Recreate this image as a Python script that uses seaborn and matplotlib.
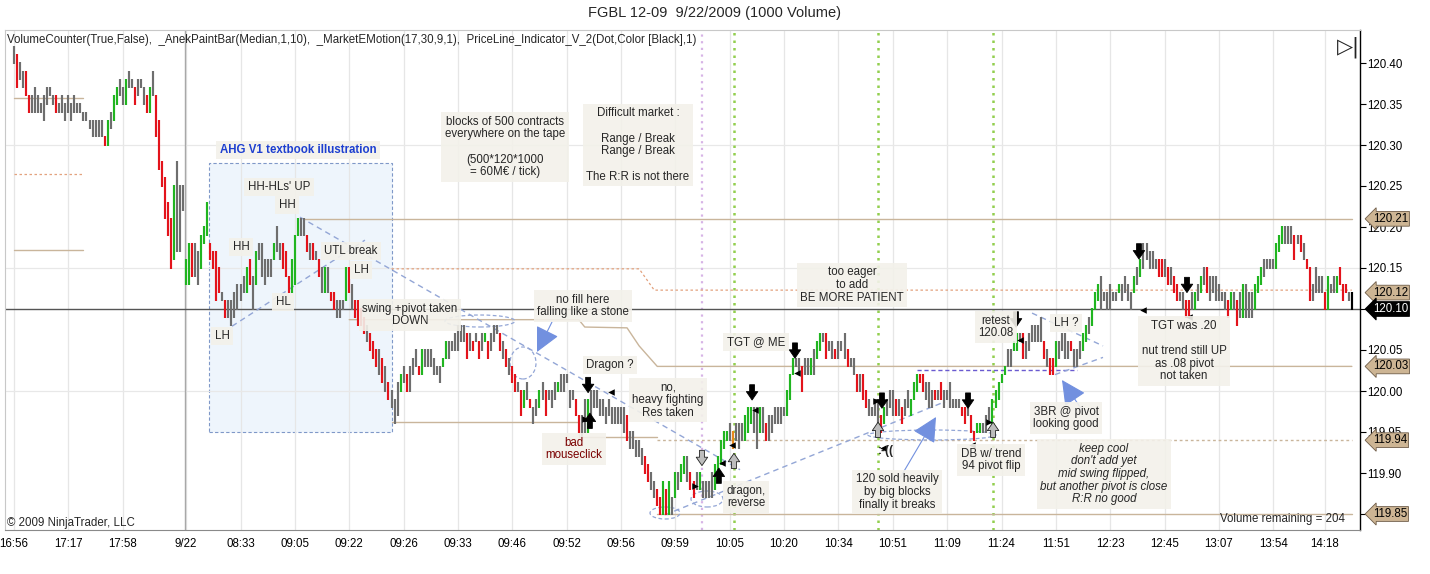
import matplotlib
matplotlib.use("Agg")
import numpy as np
import pandas as pd
import matplotlib.pyplot as plt
import seaborn as sns
from matplotlib.patches import Rectangle, Ellipse

# ------------------------------------------------------------------ data
# per-bar high / low in ticks (0.01) above 120.00, 1000-volume bars
HIGH = [42, 41, 40, 39, 39, 36, 36, 37, 36, 35,
        36, 37, 37, 36, 36, 35, 36, 35, 36, 35,
        36, 35, 35, 34, 34, 33, 33, 33, 33, 33,
        31, 33, 34, 36, 37, 38, 37, 38, 39, 38,
        37, 38, 38, 37, 36, 37, 39, 36, 33, 28,
        26, 23, 21, 25, 28, 25, 25, 16, 18, 18,
        18, 17, 19, 20, 23, 18, 17, 17, 15, 12,
        11, 11, 11, 12, 13, 13, 14, 15, 16, 14,
        17, 18, 18, 16, 16, 16, 18, 20, 18, 18,
        17, 14, 16, 19, 21, 21, 21, 19, 18, 18,
        17, 16, 15, 15, 15, 12, 12, 11, 11, 11,
        15, 15, 13, 11, 11, 10, 9, 8, 7, 6,
        5, 5, 4, 3, 1, 0, -1, 1, 2, 3,
        2, 3, 4, 5, 3, 5, 5, 5, 5, 4,
        3, 3, 4, 6, 6, 6, 7, 8, 8, 8,
        7, 7, 6, 7, 6, 7, 7, 6, 7, 8,
        8, 7, 6, 5, 4, 3, 2, 1, 0, 0,
        1, -1, -2, -1, 0, 1, 0, 0, 0, 1,
        1, 2, 2, 2, 0, 0, -1, -3, -3, -1,
        -1, 0, 0, 0, -1, -1, -2, -1, -2, -2,
        -2, -2, -2, -3, -5, -5, -6, -6, -7, -8,
        -9, -10, -11, -12, -13, -11, -12, -11, -13, -10,
        -10, -9, -8, -8, -10, -11, -10, -10, -11, -11,
        -11, -10, -9, -8, -6, -5, -5, -4, -5, -4,
        -4, -4, -3, -2, -2, -2, -2, -2, -2, -4,
        -3, -3, -2, -2, -2, -2, 0, 2, 4, 4,
        4, 3, 4, 4, 4, 5, 6, 7, 7, 7,
        6, 6, 5, 6, 6, 7, 5, 4, 4, 2,
        2, 2, 0, -1, -2, -1, -1, -3, -2, -1,
        0, 0, -1, -1, -2, -1, 0, -1, 1, 2,
        2, 2, 1, 1, 0, 0, 0, 1, 0, 0,
        1, -1, -1, -1, -2, -2, -1, -3, -5, -4,
        -4, -4, -3, -2, -1, 0, 1, 2, 3, 5,
        5, 6, 7, 7, 7, 6, 7, 8, 8, 8,
        9, 6, 5, 4, 4, 6, 6, 7, 7, 6,
        6, 5, 5, 6, 7, 8, 9, 10, 12, 13,
        14, 12, 12, 13, 12, 12, 13, 13, 14, 13,
        12, 14, 15, 16, 18, 18, 17, 17, 16, 16,
        16, 16, 15, 15, 14, 13, 12, 12, 11, 11,
        12, 12, 13, 14, 15, 15, 14, 14, 14, 13,
        12, 12, 11, 12, 12, 11, 12, 13, 13, 12,
        12, 13, 14, 15, 16, 16, 16, 16, 18, 19,
        20, 20, 20, 20, 19, 19, 19, 18, 16, 15,
        13, 15, 14, 14, 12, 14, 13, 14, 14, 15,
        13, 13, 12, 12]
LOW = [40, 37, 38, 37, 36, 34, 34, 34, 34, 34,
       33, 35, 36, 35, 34, 34, 34, 33, 34, 33,
       34, 34, 34, 33, 33, 32, 31, 31, 31, 31,
       30, 30, 32, 33, 35, 36, 35, 35, 37, 37,
       35, 36, 37, 35, 34, 34, 36, 31, 27, 25,
       21, 19, 15, 16, 17, 17, 22, 13, 13, 14,
       14, 13, 15, 18, 19, 16, 15, 11, 12, 11,
       9, 9, 8, 9, 10, 11, 12, 12, 13, 10,
       13, 16, 14, 13, 14, 14, 16, 17, 16, 15,
       14, 12, 12, 13, 19, 19, 19, 17, 16, 16,
       16, 14, 12, 12, 12, 11, 10, 9, 9, 10,
       11, 12, 10, 9, 8, 8, 7, 6, 5, 4,
       3, 2, 1, 0, -1, -2, -4, -3, 0, 1,
       0, 0, 2, 3, 2, 2, 3, 3, 3, 2,
       2, 1, 3, 4, 4, 5, 5, 5, 6, 6,
       4, 5, 5, 6, 4, 5, 6, 4, 5, 6,
       7, 5, 4, 3, 2, 1, 0, 0, -3, -2,
       -1, -2, -4, -3, -2, -1, -3, -1, -2, -1,
       0, 0, 0, 1, -2, -1, -3, -5, -6, -5,
       -5, -3, -2, -2, -3, -3, -4, -3, -4, -4,
       -4, -4, -5, -6, -7, -7, -8, -8, -9, -10,
       -11, -12, -13, -14, -15, -15, -15, -15, -15, -13,
       -12, -11, -10, -11, -12, -13, -12, -12, -13, -13,
       -13, -13, -12, -10, -9, -7, -6, -6, -7, -6,
       -7, -6, -6, -5, -4, -5, -7, -5, -5, -6,
       -6, -5, -4, -4, -4, -3, -3, -1, 2, 3,
       2, 0, 2, 2, 2, 2, 4, 5, 6, 4,
       5, 4, 4, 4, 5, 4, 3, 3, 2, 0,
       0, -1, -2, -3, -3, -3, -4, -5, -4, -3,
       -2, -3, -3, -3, -4, -3, -2, -3, -1, 0,
       1, 0, -1, -2, -2, -1, -1, -1, -2, -1,
       -2, -2, -2, -2, -3, -4, -3, -5, -6, -5,
       -5, -5, -5, -4, -4, -2, -1, 1, 2, 3,
       3, 5, 5, 6, 4, 4, 5, 6, 6, 6,
       6, 4, 3, 2, 2, 3, 4, 5, 4, 4,
       5, 3, 3, 4, 5, 6, 7, 8, 10, 11,
       10, 11, 10, 10, 11, 11, 12, 11, 12, 11,
       10, 12, 13, 14, 15, 16, 15, 15, 15, 14,
       14, 14, 13, 13, 12, 11, 11, 10, 9, 9,
       10, 10, 11, 12, 13, 12, 11, 12, 11, 11,
       11, 10, 9, 10, 10, 8, 9, 9, 9, 9,
       9, 10, 12, 13, 14, 15, 15, 15, 15, 17,
       18, 18, 18, 18, 16, 18, 17, 16, 15, 11,
       11, 12, 12, 12, 10, 10, 12, 12, 12, 13,
       11, 12, 11, 10]
# paint-bar state: g neutral, r down, G up, o signal bar, k last bar
PAINT = ("grggrrgggg" "ggggrggggg" "gggggggggg" "rGgGGggGgg" "rgggrGgrrr"
         "rrrGgggGGr" "ggGGGrrrrg" "rggggggGrg" "GgggggGggr" "rrGGGggrgr"
         "grgGgrrggg" "Grgrrrrgrr" "rgrgrgggGg" "rgggrGgggg" "ggGGgggggg"
         "rgrgrgGrgg" "grgrgrrgrG" "grggGgrggg" "Ggggggrrgg" "Gggggggggg"
         "gggrgggggr" "rggrrGrGgG" "gGGgrrgGgg" "ggGGGGGgog" "ggGGGggGgr"
         "ggggggGGGg" "grggGgGGgr" "ggrgggrggr" "grrggggrGg" "ggrgrggGGG"
         "rrgggrgrgg" "ggggrrgrrG" "GgggGGGGGg" "gGGgrggggg" "grgrrGgggg"
         "rgggGGgGGG" "ggggggGggg" "gGgGgggggr" "rgrgrrggrr" "gGgGgrgggg"
         "ggrGgrgGgg" "gGGGggggGG" "Ggggrgrgrr" "ggggrGggGr" "rrgk")
BASE = 120.00
TICK = 0.01

TIME_LABELS = ["16:56", "17:17", "17:58", "9/22", "08:33", "09:05", "09:22", "09:26",
               "09:33", "09:46", "09:52", "09:56", "09:59", "10:05", "10:20", "10:34",
               "10:51", "11:09", "11:24", "11:51", "12:23", "12:45", "13:07", "13:54", "14:18"]
TIME_TICK_BARS = [0, 18, 36, 57, 75, 93, 111, 129, 147, 165, 183, 201, 219,
                  237, 255, 273, 291, 309, 327, 345, 363, 381, 399, 417, 434]
SESSION_BREAK_BAR = 56.7
PRICE_TICKS = [120.40, 120.35, 120.30, 120.25, 120.20, 120.15, 120.10,
               120.05, 120.00, 119.95, 119.90, 119.85]
GRID_PRICES = [120.30, 120.15, 120.00]
LEVELS = [120.21, 120.12, 120.03, 119.94, 119.85]
LAST_PRICE = 120.10

# indicator lines (bar index, price)
R_LINE_BARS, R_LINE_PRICE = [96, 443], [120.21, 120.21]
UP_LINE_BARS = [111, 187, 189, 203, 207, 213, 443]
UP_LINE_PRICE = [120.087, 120.087, 120.078, 120.077, 120.055, 120.03, 120.03]
LOW_LINE_BARS = [125, 187, 187, 213]
LOW_LINE_PRICE = [119.962, 119.962, 119.944, 119.944]
S_LINE_BARS, S_LINE_PRICE = [213, 443], [119.94, 119.94]
B_LINE_BARS, B_LINE_PRICE = [213, 443], [119.85, 119.85]
MID_DOT_BARS = [125, 207, 212, 443]
MID_DOT_PRICE = [120.149, 120.149, 120.123, 120.123]
PREV_SOLID = [120.357, 120.172]
PREV_DOT = [120.265]
PREV_BARS = [0, 23]
PIVOT_BARS, PIVOT_PRICE = [299, 352], [120.026, 120.026]
TREND_LINES = [((94.7, 120.212), (240.4, 119.904)),
               ((72.2, 120.079), (116.2, 120.184)),
               ((215.6, 119.849), (308.3, 119.987)),
               ((337.1, 120.095), (360.6, 120.055)),
               ((344.7, 120.020), (360.6, 120.041))]
PURPLE_VLINE = [227.8]
GREEN_VLINES = [238.4, 286.1, 324.2]
DOWN_ARROWS = [(190.1, 119.998), (244.4, 119.989), (258.6, 120.040), (287.4, 119.979),
               (315.9, 119.979), (331.8, 120.078), (372.5, 120.161), (388.4, 120.120)]
UP_ARROWS = [(190.7, 119.973), (233.4, 119.906)]
HOLLOW_DOWN = [(227.8, 119.909)]
HOLLOW_UP = [(238.4, 119.924), (286.1, 119.962), (324.2, 119.962)]
LEFT_MARKS = [(197.6, 119.999), (245.4, 119.977), (259.3, 120.022), (237.7, 119.934),
              (234.4, 119.912), (287.8, 119.930), (317.3, 119.934), (333.1, 120.062),
              (373.8, 120.099), (389.1, 120.090)]
RIGHT_MARKS = [(189.1, 119.966), (225.5, 119.884), (285.4, 119.988), (322.8, 119.962)]

# ------------------------------------------------------------------ layout helpers
X0, DX = 14.0, 3.02      # reference pixel of bar 0 and bar pitch
Y0, DY = 391.0, 820.0    # reference pixel of 120.00 and pixels per point


def P(x, y):
    return (x - X0) / DX, 120.0 + (Y0 - y) / DY


sns.set_theme(style="white")
plt.rcParams["font.family"] = ["Liberation Sans", "DejaVu Sans"]
plt.rcParams["font.size"] = 8

fig = plt.figure(figsize=(14.3, 5.74), dpi=100)
ax = fig.add_axes([5 / 1430, 44 / 574, 1355 / 1430, 500 / 574])
ax.set_xlim(P(5, 0)[0], P(1360, 0)[0])
ax.set_ylim(P(0, 530)[1], P(0, 30)[1])
ax.set_facecolor("white")

# grid
ax.vlines(TIME_TICK_BARS, 0, 1, transform=ax.get_xaxis_transform(),
          colors="#e6e6e6", lw=0.9, zorder=0.5)
ax.axvline(SESSION_BREAK_BAR, color="#a8a8a8", lw=1.0, zorder=0.6)
for gp in GRID_PRICES:
    ax.axhline(gp, color="#e8e8e8", lw=0.9, zorder=0.5)

# AHG box
bx0, by0 = P(209, 432)
bx1, by1 = P(392, 163)
ax.add_patch(Rectangle((bx0, by0), bx1 - bx0, by1 - by0, fc="#eef5fc", ec="#7f98c8",
                       lw=0.8, ls=(0, (3, 2)), zorder=0.4))

# vertical dotted markers
for v in PURPLE_VLINE:
    ax.axvline(v, color="#d7b4e6", lw=1.6, ls=(0, (1, 2)), zorder=1)
for v in GREEN_VLINES:
    ax.axvline(v, color="#92cf4f", lw=1.8, ls=(0, (1, 2)), zorder=1)

# indicator / level lines
TAN = "#c9b59b"
SALMON = "#e3a27e"
lines_df = pd.DataFrame({"bar": R_LINE_BARS, "price": R_LINE_PRICE})
sns.lineplot(data=lines_df, x="bar", y="price", ax=ax, color=TAN, lw=1.0, zorder=1.5)
sns.lineplot(x=UP_LINE_BARS, y=UP_LINE_PRICE, ax=ax, color=TAN, lw=1.0, zorder=1.5,
             sort=False, estimator=None)
sns.lineplot(x=LOW_LINE_BARS, y=LOW_LINE_PRICE, ax=ax, color=TAN, lw=1.0, zorder=1.5,
             sort=False, estimator=None)
ax.plot(S_LINE_BARS, S_LINE_PRICE, color=TAN, lw=1.0, ls=(0, (2, 2)), zorder=1.5)
ax.plot(B_LINE_BARS, B_LINE_PRICE, color=TAN, lw=1.0, zorder=1.5)
ax.plot(MID_DOT_BARS, MID_DOT_PRICE, color=SALMON, lw=0.9, ls=(0, (2, 2)), zorder=1.5)
for p in PREV_SOLID:
    ax.plot(PREV_BARS, [p, p], color=TAN, lw=1.0, zorder=1.5)
for p in PREV_DOT:
    ax.plot(PREV_BARS, [p, p], color=SALMON, lw=0.9, ls=(0, (2, 2)), zorder=1.5)
ax.axhline(LAST_PRICE, color="#555555", lw=1.0, zorder=1.6)
ax.plot(PIVOT_BARS, PIVOT_PRICE, color="#6a5ad0", lw=1.0, ls=(0, (3, 2)), zorder=1.6)
for (a, b) in TREND_LINES:
    ax.plot([a[0], b[0]], [a[1], b[1]], color="#93a6d6", lw=1.0, ls=(0, (4, 3)), zorder=2)

# ellipses (annotation)
for (cx, cy, w, h) in [(480, 321, 70, 12), (523, 363, 26, 32), (665, 513, 30, 12),
                       (707, 499, 32, 16), (932, 435, 128, 10)]:
    ex, ey = P(cx, cy)
    ax.add_patch(Ellipse((ex, ey), w / DX, h / DY, fill=False, ec="#93a6d6",
                         lw=0.9, ls=(0, (3, 2)), zorder=2))

# price bars
n = len(HIGH)
assert len(LOW) == n and len(PAINT) == n
df = pd.DataFrame({"bar": np.arange(n),
                   "high": BASE + np.array(HIGH) * TICK,
                   "low": BASE + np.array(LOW) * TICK,
                   "paint": list(PAINT)})
COLORS = {"g": "#6e6e6e", "r": "#e3131b", "G": "#20b520", "o": "#e88a1c", "k": "#000000"}
ax.vlines(df["bar"], df["low"] - 0.0008, df["high"] + 0.0008,
          colors=df["paint"].map(COLORS), lw=1.55, zorder=3)

# trade arrows
def arrow(pt, dy_pts, fc, ec):
    ax.annotate("", xy=pt, xytext=(0, dy_pts), textcoords="offset points",
                arrowprops=dict(arrowstyle="simple,head_length=0.55,head_width=0.75,tail_width=0.32",
                                mutation_scale=11, fc=fc, ec=ec, lw=0.6,
                                shrinkA=0, shrinkB=0), zorder=6)

for pt in DOWN_ARROWS:
    arrow(pt, 11, "black", "black")
for pt in UP_ARROWS:
    arrow(pt, -11, "black", "black")
for pt in HOLLOW_DOWN:
    arrow(pt, 11, "#bdbdbd", "#222222")
for pt in HOLLOW_UP:
    arrow(pt, -11, "#bdbdbd", "#222222")
ax.scatter([p[0] for p in LEFT_MARKS], [p[1] for p in LEFT_MARKS], marker="<", s=22,
           color="black", zorder=6, linewidths=0)
ax.scatter([p[0] for p in RIGHT_MARKS], [p[1] for p in RIGHT_MARKS], marker=">", s=22,
           color="black", zorder=6, linewidths=0)

# blue pointer arrows
for tail, head in [((552, 322), (537, 352)), ((900, 478), (936, 417)), ((1082, 410), (1062, 380))]:
    ax.annotate("", xy=P(*head), xytext=P(*tail),
                arrowprops=dict(arrowstyle="-|>,head_length=1.1,head_width=0.55",
                                mutation_scale=14, color="#7290df", lw=0.8,
                                shrinkA=0, shrinkB=0), zorder=6)

# annotations
BOX = dict(boxstyle="square,pad=0.3", fc="#f3f1ea", ec="none", alpha=0.9)
NOTES = [
    (298, 150, "AHG V1 textbook illustration", dict(color="#1d3fd0", fontweight="bold")),
    (279, 187, "HH-HLs' UP", {}),
    (287, 205, "HH", {}),
    (241, 247, "HH", {}),
    (351, 251, "UTL break", {}),
    (361, 270, "LH", {}),
    (283, 302, "HL", {}),
    (222, 336, "LH", {}),
    (410, 315, "swing +pivot taken\nDOWN", {}),
    (505, 147, "blocks of 500 contracts\neverywhere on the tape\n\n(500*120*1000\n= 60M€ / tick)", {}),
    (638, 145, "Difficult market :\n\nRange / Break\nRange / Break\n\nThe R:R is not there", {}),
    (583, 306, "no fill here\nfalling like a stone", {}),
    (610, 365, "Dragon ?", {}),
    (668, 400, "no,\nheavy fighting\nRes taken", {}),
    (574, 449, "bad\nmouseclick", dict(color="#7a0000")),
    (756, 342, "TGT @ ME", {}),
    (852, 285, "too eager\nto add\nBE MORE PATIENT", {}),
    (746, 497, "dragon,\nreverse", {}),
    (897, 492, "120 sold heavily\nby big blocks\nfinally it breaks", {}),
    (991, 460, "DB w/ trend\n94 pivot flip", {}),
    (996, 327, "retest\n120.08", {}),
    (1066, 323, "LH ?", {}),
    (1066, 418, "3BR @ pivot\nlooking good", {}),
    (1104, 474, "keep cool\ndon't add yet\nmid swing flipped,\nbut another pivot is close\nR:R no good",
     dict(style="italic")),
    (1184, 351, "TGT was .20\n\nnut trend still UP\nas .08 pivot\nnot taken", {}),
]
for (x, y, s, kw) in NOTES:
    ax.text(*P(x, y), s, ha="center", va="center", fontsize=8.3, linespacing=1.08,
            bbox=BOX, zorder=7, **kw)
ax.text(*P(886, 451), ":-((", ha="center", va="center", fontsize=8.5, fontweight="bold", zorder=7)
ax.text(*P(7, 40), "VolumeCounter(True,False),  _AnekPaintBar(Median,1,10),  _MarketEMotion(17,30,9,1),  "
        "PriceLine_Indicator_V_2(Dot,Color [Black],1)", ha="left", va="center", fontsize=8.3, zorder=7)
ax.text(*P(1345, 519), "Volume remaining = 204", ha="right", va="center", fontsize=8.3, zorder=7)
ax.text(*P(7, 523), "© 2009 NinjaTrader, LLC", ha="left", va="center", fontsize=8.3, zorder=7)
fig.text(715 / 1430, 1 - 13 / 574, "FGBL 12-09  9/22/2009 (1000 Volume)", ha="center", va="center",
         fontsize=10.5)
fig.text(1348 / 1430, 1 - 47 / 574, "▷|", ha="center", va="center", fontsize=15,
         family=["DejaVu Sans"], color="#222222")

# axes styling: tick labels hidden behind a price tag are left blank
HIDDEN_TICKS = [LAST_PRICE, 119.85]
ax.set_xticks(TIME_TICK_BARS)
ax.set_xticklabels(TIME_LABELS)
ax.yaxis.tick_right()
ax.set_yticks(PRICE_TICKS)
ax.set_yticklabels(["" if any(abs(p - h) < 1e-9 for h in HIDDEN_TICKS) else f"{p:.2f}"
                    for p in PRICE_TICKS])
ax.tick_params(axis="x", bottom=False, length=0, pad=6, labelsize=8.3, colors="black")
ax.tick_params(axis="y", right=True, left=False, labelright=True, labelleft=False,
               direction="out", length=4, width=0.8, color="black", pad=1.5,
               labelsize=8.3, labelcolor="black")
ax.set_xlabel("")
ax.set_ylabel("")
for side, col, lw in [("left", "#c8c8c8", 0.8), ("top", "#c8c8c8", 0.8),
                      ("bottom", "#8a8a8a", 0.8), ("right", "black", 1.0)]:
    ax.spines[side].set_visible(True)
    ax.spines[side].set_color(col)
    ax.spines[side].set_linewidth(lw)

# price-level tags on the price axis
for lv in LEVELS:
    ax.text(1.0095, lv, f"{lv:.2f}", transform=ax.get_yaxis_transform(), ha="left",
            va="center", fontsize=8.3, color="black", zorder=8, clip_on=False,
            bbox=dict(boxstyle="larrow,pad=0.12", fc="#cdb594", ec="#6e5c48", lw=0.6))
ax.text(1.0095, LAST_PRICE, f"{LAST_PRICE:.2f}", transform=ax.get_yaxis_transform(), ha="left",
        va="center", fontsize=8.3, color="white", zorder=8, clip_on=False,
        bbox=dict(boxstyle="larrow,pad=0.12", fc="black", ec="black", lw=0.6))

fig.savefig("out.png", dpi=100)
